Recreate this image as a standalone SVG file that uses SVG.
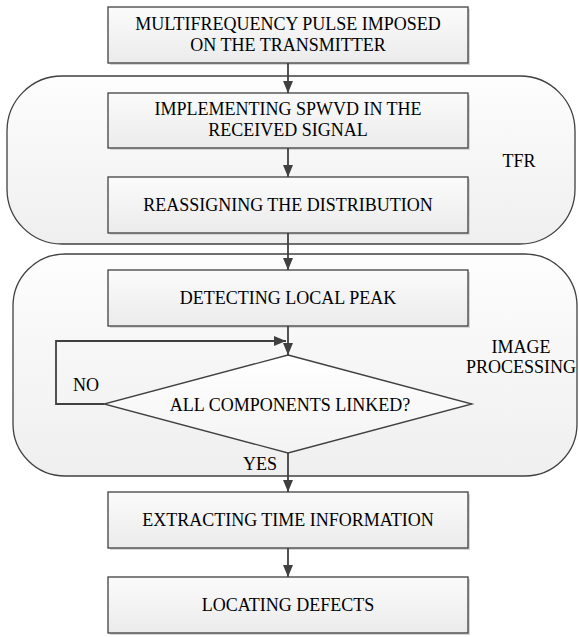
<svg xmlns="http://www.w3.org/2000/svg" width="579" height="637" viewBox="0 0 579 637">
  <defs>
    <linearGradient id="boxFill" x1="0" y1="0" x2="0" y2="1">
      <stop offset="0" stop-color="#fbfbfb"/>
      <stop offset="1" stop-color="#ebebeb"/>
    </linearGradient>
    <linearGradient id="contFill" x1="0" y1="0" x2="0" y2="1">
      <stop offset="0" stop-color="#fdfdfd"/>
      <stop offset="1" stop-color="#efefef"/>
    </linearGradient>
    <linearGradient id="diaFill" x1="0" y1="0" x2="0" y2="1">
      <stop offset="0" stop-color="#ffffff"/>
      <stop offset="1" stop-color="#f3f3f3"/>
    </linearGradient>
    <marker id="arrow" viewBox="0 0 12 10" markerWidth="12" markerHeight="10" refX="12" refY="5" orient="auto" markerUnits="userSpaceOnUse">
      <path d="M0,0 L12,5 L0,10 z" fill="#404040"/>
    </marker>
  </defs>
  <style>
    .cont { fill: url(#contFill); stroke: #404040; stroke-width: 1.3; }
    .box { fill: url(#boxFill); stroke: #404040; stroke-width: 1.3; }
    .shadow { fill: #d6d6d6; }
    .dia { fill: url(#diaFill); stroke: #404040; stroke-width: 1.3; }
    .conn { fill: none; stroke: #404040; stroke-width: 1.8; }
    .t { font-family: "Liberation Serif", "Times New Roman", serif; font-size: 18px; fill: #000000; }
    .c { text-anchor: middle; }
  </style>
  <rect width="579" height="637" fill="#ffffff"/>

  <g id="tfr-group">
    <rect class="cont" x="7" y="76" width="568" height="168" rx="55" ry="55"/>
    <text class="t c" x="519" y="167" font-family="Liberation Serif">TFR</text>
  </g>
  <g id="image-processing-group">
    <rect class="cont" x="13" y="254" width="564" height="222" rx="52" ry="52"/>
    <text class="t c" x="521" y="353" font-family="Liberation Serif">IMAGE</text>
    <text class="t c" x="521" y="373" font-family="Liberation Serif">PROCESSING</text>
  </g>

  <g id="node-pulse">
    <rect class="shadow" x="110" y="9" width="360" height="56"/>
    <rect class="box" x="108" y="7" width="360" height="56"/>
    <text class="t c" x="288" y="30" font-family="Liberation Serif">MULTIFREQUENCY PULSE IMPOSED</text>
    <text class="t c" x="288" y="51" font-family="Liberation Serif">ON THE TRANSMITTER</text>
  </g>
  <g id="node-spwvd">
    <rect class="shadow" x="110" y="95" width="360" height="55"/>
    <rect class="box" x="108" y="93" width="360" height="55"/>
    <text class="t c" x="288" y="115" font-family="Liberation Serif">IMPLEMENTING SPWVD IN THE</text>
    <text class="t c" x="288" y="136" font-family="Liberation Serif">RECEIVED SIGNAL</text>
  </g>
  <g id="node-reassign">
    <rect class="shadow" x="110" y="179" width="360" height="56"/>
    <rect class="box" x="108" y="177" width="360" height="56"/>
    <text class="t c" x="288" y="211" font-family="Liberation Serif">REASSIGNING THE DISTRIBUTION</text>
  </g>
  <g id="node-peak">
    <rect class="shadow" x="110" y="272" width="360" height="56"/>
    <rect class="box" x="108" y="270" width="360" height="56"/>
    <text class="t c" x="288" y="304" font-family="Liberation Serif">DETECTING LOCAL PEAK</text>
  </g>
  <g id="node-decision">
    <polygon class="dia" points="288,355 472,404 288,453 104,404"/>
    <text class="t c" x="290" y="411" font-family="Liberation Serif">ALL COMPONENTS LINKED?</text>
  </g>
  <g id="node-extract">
    <rect class="shadow" x="110" y="494" width="360" height="56"/>
    <rect class="box" x="108" y="492" width="360" height="56"/>
    <text class="t c" x="288" y="526" font-family="Liberation Serif">EXTRACTING TIME INFORMATION</text>
  </g>
  <g id="node-locate">
    <rect class="shadow" x="110" y="579" width="360" height="56"/>
    <rect class="box" x="108" y="577" width="360" height="56"/>
    <text class="t c" x="288" y="611" font-family="Liberation Serif">LOCATING DEFECTS</text>
  </g>

  <g id="connectors">
    <line class="conn" x1="288" y1="63" x2="288" y2="93" marker-end="url(#arrow)"/>
    <line class="conn" x1="288" y1="148" x2="288" y2="177" marker-end="url(#arrow)"/>
    <line class="conn" x1="288" y1="233" x2="288" y2="270" marker-end="url(#arrow)"/>
    <line class="conn" x1="288" y1="326" x2="288" y2="355" marker-end="url(#arrow)"/>
    <polyline class="conn" points="104,404 56,404 56,341 286,341" marker-end="url(#arrow)"/>
    <line class="conn" x1="288" y1="453" x2="288" y2="492" marker-end="url(#arrow)"/>
    <line class="conn" x1="288" y1="548" x2="288" y2="577" marker-end="url(#arrow)"/>
    <text class="t" x="73" y="391" font-family="Liberation Serif">NO</text>
    <text class="t" x="243" y="470" font-family="Liberation Serif">YES</text>
  </g>
</svg>
